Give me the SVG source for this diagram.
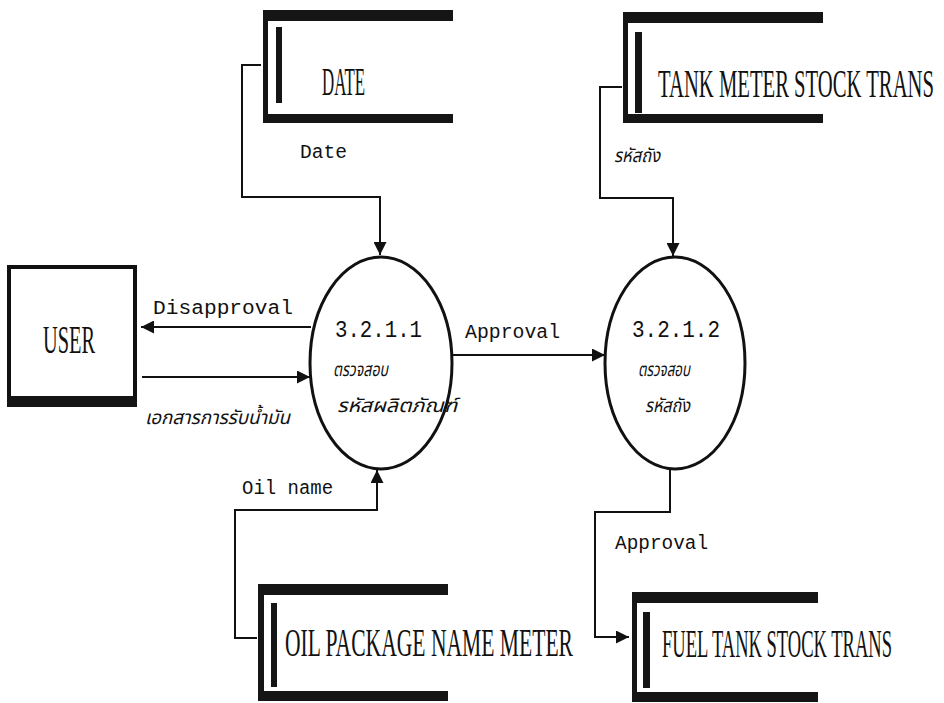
<svg xmlns="http://www.w3.org/2000/svg" width="944" height="703" viewBox="0 0 944 703">
<defs>
<style>
.bar{fill:#151515}
.ln{fill:none;stroke:#111;stroke-width:2}
.proc{fill:#fff;stroke:#111;stroke-width:3}
.name{font-family:"Liberation Serif",serif;font-size:40px;fill:#111}
.lbl{font-family:"Liberation Mono",monospace;font-size:20px;fill:#111}
.num{font-family:"Liberation Mono",monospace;font-size:23px;fill:#111}
.th{font-family:"Noto Sans Thai","Noto Sans","DejaVu Sans",sans-serif;font-size:19px;fill:#111;font-style:italic}
</style>
<marker id="ah" viewBox="0 0 10 10" refX="10" refY="5" markerUnits="userSpaceOnUse" markerWidth="14" markerHeight="13" orient="auto">
<path d="M0,0 L10,5 L0,10 z" fill="#111"/>
</marker>
</defs>
<rect width="944" height="703" fill="#fff"/>

<g id="connectors">
<path class="ln" d="M261 65 H242 V197 H380 V255" marker-end="url(#ah)"/>
<path class="ln" d="M622 87 H600 V198 H673 V256" marker-end="url(#ah)"/>
<path class="ln" d="M311 327 H141" marker-end="url(#ah)"/>
<path class="ln" d="M142 377 H310" marker-end="url(#ah)"/>
<path class="ln" d="M452 355 H605" marker-end="url(#ah)"/>
<path class="ln" d="M257 638 H235 V510 H377 V470" marker-end="url(#ah)"/>
<path class="ln" d="M670 469 V512 H595 V637 H629" marker-end="url(#ah)"/>
<text class="lbl" x="300" y="158" textLength="47" lengthAdjust="spacingAndGlyphs">Date</text>
<text class="th" x="614" y="162" textLength="46" lengthAdjust="spacingAndGlyphs">รหัสถัง</text>
<text class="lbl" x="153" y="314" textLength="140" lengthAdjust="spacingAndGlyphs">Disapproval</text>
<text class="th" x="145" y="424" textLength="145" lengthAdjust="spacingAndGlyphs">เอกสารการรับน้ำมัน</text>
<text class="lbl" x="465" y="338" textLength="95" lengthAdjust="spacingAndGlyphs">Approval</text>
<text class="lbl" x="242" y="494" textLength="91" lengthAdjust="spacingAndGlyphs">Oil name</text>
<text class="lbl" x="615" y="549" textLength="93" lengthAdjust="spacingAndGlyphs">Approval</text>
</g>

<g id="date">
<rect class="bar" x="263" y="10" width="190" height="11"/>
<rect class="bar" x="263" y="10" width="5" height="113"/>
<rect class="bar" x="263" y="114" width="190" height="9"/>
<rect class="bar" x="276" y="27" width="6" height="76"/>
<text class="name" transform="translate(322,95) scale(0.5,1)" textLength="86" lengthAdjust="spacingAndGlyphs">DATE</text>
</g>

<g id="tank-meter-stock-trans">
<rect class="bar" x="623" y="12" width="200" height="11"/>
<rect class="bar" x="623" y="12" width="5" height="111"/>
<rect class="bar" x="623" y="114" width="200" height="9"/>
<rect class="bar" x="635" y="32" width="7" height="81"/>
<text class="name" transform="translate(658,97) scale(0.5,1)" textLength="552" lengthAdjust="spacingAndGlyphs">TANK METER STOCK TRANS</text>
</g>

<g id="user">
<rect x="9" y="267" width="126" height="136" fill="#fff" stroke="#111" stroke-width="4"/>
<rect class="bar" x="7" y="396" width="130" height="11"/>
<text class="name" transform="translate(43,353) scale(0.5,1)" textLength="104" lengthAdjust="spacingAndGlyphs">USER</text>
</g>

<g id="p3211">
<ellipse class="proc" cx="381" cy="363" rx="71" ry="106"/>
<text class="num" x="335" y="337" textLength="87" lengthAdjust="spacingAndGlyphs">3.2.1.1</text>
<text class="th" x="333" y="376" textLength="55" lengthAdjust="spacingAndGlyphs">ตรวจสอบ</text>
<text class="th" x="337" y="412" textLength="120" lengthAdjust="spacingAndGlyphs">รหัสผลิตภัณฑ์</text>
</g>

<g id="p3212">
<ellipse class="proc" cx="675" cy="363" rx="70" ry="106"/>
<text class="num" x="632" y="337" textLength="88" lengthAdjust="spacingAndGlyphs">3.2.1.2</text>
<text class="th" x="638" y="376" textLength="52" lengthAdjust="spacingAndGlyphs">ตรวจสอบ</text>
<text class="th" x="645" y="412" textLength="45" lengthAdjust="spacingAndGlyphs">รหัสถัง</text>
</g>

<g id="oil-package-name-meter">
<rect class="bar" x="258" y="584" width="190" height="11"/>
<rect class="bar" x="258" y="584" width="6" height="117"/>
<rect class="bar" x="258" y="691" width="190" height="10"/>
<rect class="bar" x="271" y="603" width="6" height="84"/>
<text class="name" transform="translate(285,656) scale(0.5,1)" textLength="576" lengthAdjust="spacingAndGlyphs">OIL PACKAGE NAME METER</text>
</g>

<g id="fuel-tank-stock-trans">
<rect class="bar" x="632" y="592" width="186" height="11"/>
<rect class="bar" x="632" y="592" width="5" height="110"/>
<rect class="bar" x="632" y="692" width="186" height="10"/>
<rect class="bar" x="643" y="612" width="7" height="76"/>
<text class="name" transform="translate(662,657) scale(0.5,1)" textLength="460" lengthAdjust="spacingAndGlyphs">FUEL TANK STOCK TRANS</text>
</g>
</svg>
